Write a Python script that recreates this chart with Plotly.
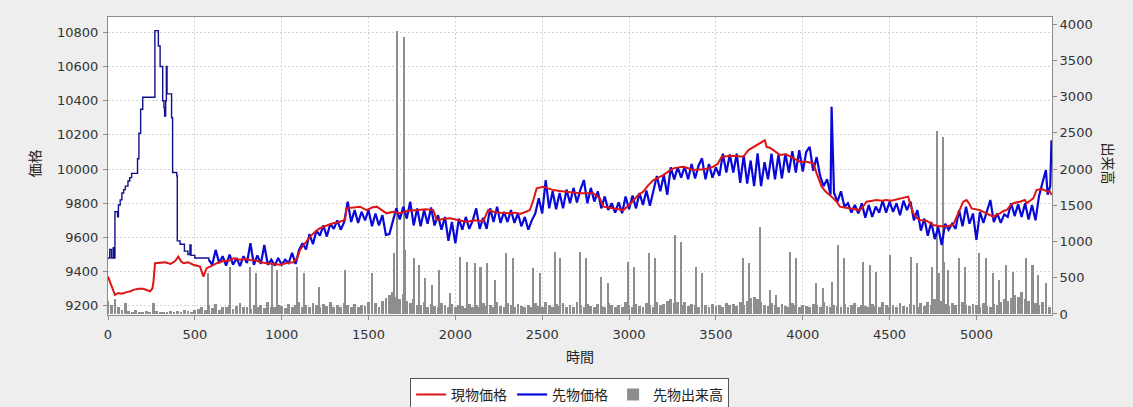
import plotly.graph_objects as go

# ---- spot price (現物価格): sample times and values ----
SPOT_T = [0, 21, 40, 60, 80, 107, 130, 146, 175, 203, 225, 242, 255, 261, 271, 300, 330, 360, 385, 405,
          420, 434, 460, 491, 510, 530, 549, 560, 568, 600, 626, 660, 700, 722, 760, 790, 817, 850, 880, 914,
          950, 990, 1030, 1067, 1090, 1105, 1130, 1163, 1190, 1220, 1260, 1297, 1330, 1364, 1374, 1410, 1451, 1489, 1520, 1547,
          1575, 1604, 1640, 1681, 1720, 1777, 1830, 1873, 1892, 1930, 1969, 2020, 2065, 2110, 2161, 2189, 2220, 2257, 2290, 2314,
          2350, 2372, 2410, 2429, 2449, 2468, 2506, 2535, 2564, 2600, 2640, 2680, 2717, 2760, 2794, 2832, 2852, 2880, 2909, 2940,
          2967, 3000, 3025, 3050, 3082, 3110, 3140, 3170, 3197, 3225, 3255, 3285, 3313, 3340, 3370, 3400, 3428, 3460, 3485, 3510,
          3533, 3565, 3600, 3630, 3658, 3687, 3710, 3735, 3760, 3782, 3792, 3810, 3831, 3850, 3869, 3890, 3907, 3925, 3945, 3965,
          3984, 4022, 4061, 4080, 4095, 4109, 4130, 4156, 4175, 4195, 4214, 4240, 4271, 4300, 4329, 4350, 4367, 4400, 4425, 4455,
          4482, 4510, 4540, 4559, 4590, 4607, 4617, 4636, 4655, 4675, 4713, 4751, 4790, 4828, 4866, 4886, 4905, 4924, 4943, 4960,
          4972, 5000, 5020, 5040, 5058, 5080, 5097, 5120, 5135, 5155, 5174, 5195, 5212, 5250, 5279, 5289, 5310, 5327, 5346, 5365,
          5385, 5405, 5423, 5433]
SPOT_V = [9370, 9313, 9264, 9275, 9270, 9280, 9285, 9293, 9300, 9300, 9290, 9285, 9300, 9332, 9449, 9450, 9455, 9445, 9460, 9488,
          9460, 9449, 9455, 9440, 9435, 9429, 9371, 9400, 9420, 9435, 9449, 9460, 9465, 9478, 9470, 9475, 9468, 9465, 9455, 9449,
          9445, 9440, 9450, 9455, 9480, 9527, 9560, 9605, 9630, 9654, 9670, 9683, 9690, 9702, 9770, 9775, 9780, 9760, 9775, 9780,
          9760, 9741, 9750, 9741, 9755, 9760, 9765, 9760, 9702, 9708, 9712, 9700, 9692, 9700, 9695, 9760, 9750, 9745, 9741, 9741,
          9745, 9738, 9752, 9760, 9819, 9887, 9897, 9885, 9877, 9872, 9868, 9860, 9858, 9858, 9858, 9829, 9780, 9775, 9770, 9765,
          9760, 9790, 9819, 9845, 9868, 9905, 9936, 9950, 9965, 9985, 10004, 10010, 10014, 10005, 9994, 9998, 9997, 10005, 10014, 10030,
          10072, 10075, 10078, 10075, 10072, 10111, 10125, 10140, 10155, 10169, 10130, 10125, 10111, 10095, 10082, 10085, 10085, 10075, 10063, 10050,
          10043, 10043, 10033, 9975, 9935, 9897, 9870, 9848, 9830, 9809, 9780, 9775, 9770, 9765, 9760, 9785, 9809, 9815, 9819, 9815,
          9819, 9815, 9822, 9829, 9835, 9839, 9800, 9741, 9715, 9702, 9698, 9673, 9665, 9665, 9673, 9721, 9770, 9809, 9819, 9795,
          9770, 9765, 9760, 9750, 9741, 9730, 9721, 9735, 9741, 9755, 9760, 9785, 9800, 9809, 9819, 9800, 9815, 9829, 9877, 9882,
          9880, 9870, 9868, 9848]

# ---- futures price (先物価格): opening stair-step run ----
FUT_OPEN_T = [0, 10, 20, 30, 35, 40, 55, 60, 70, 80, 90, 100, 115, 125, 136, 170, 178, 188, 200, 270,
              290, 300, 310, 315, 322, 326, 332, 336, 340, 362, 366, 372, 396, 399, 415, 440, 460, 472, 478, 500,
              540, 580]
FUT_OPEN_V = [9480, 9530, 9480, 9540, 9480, 9750, 9720, 9790, 9820, 9860, 9880, 9900, 9930, 9950, 9975, 10060, 10210, 10350, 10420, 10810,
              10720, 10600, 10600, 10400, 10360, 10310, 10400, 10600, 10440, 10440, 10300, 9980, 9960, 9580, 9560, 9520, 9500, 9556, 9495, 9480,
              9480, 9470]

# ---- futures price: rest of the session ----
FUT_T = [580, 600, 620, 640, 660, 680, 700, 720, 740, 760,
         780, 800, 820, 840, 860, 880, 900, 920, 940, 960,
         980, 1000, 1020, 1040, 1060, 1080, 1100, 1120, 1140, 1160,
         1180, 1200, 1220, 1240, 1260, 1280, 1300, 1320, 1340, 1360,
         1380, 1400, 1420, 1440, 1460, 1480, 1500, 1520, 1540, 1560,
         1580, 1600, 1620, 1640, 1660, 1680, 1700, 1720, 1740, 1760,
         1780, 1800, 1820, 1840, 1860, 1880, 1900, 1920, 1940, 1960,
         1980, 2000, 2020, 2040, 2060, 2080, 2100, 2120, 2140, 2160,
         2180, 2200, 2220, 2240, 2260, 2280, 2300, 2320, 2340, 2360,
         2380, 2400, 2420, 2440, 2460, 2480, 2500, 2520, 2540, 2560,
         2580, 2600, 2620, 2640, 2660, 2680, 2700, 2720, 2740, 2760,
         2780, 2800, 2820, 2840, 2860, 2880, 2900, 2920, 2940, 2960,
         2980, 3000, 3020, 3040, 3060, 3080, 3100, 3120, 3140, 3160,
         3180, 3200, 3220, 3240, 3260, 3280, 3300, 3320, 3340, 3360,
         3380, 3400, 3420, 3440, 3460, 3480, 3500, 3520, 3540, 3560,
         3580, 3600, 3620, 3640, 3660, 3680, 3700, 3720, 3740, 3760,
         3780, 3800, 3820, 3840, 3860, 3880, 3900, 3920, 3940, 3960,
         3980, 4000, 4020, 4040, 4060, 4080, 4100, 4120, 4140, 4160,
         4166, 4180, 4200, 4220, 4240, 4260, 4280, 4300, 4320, 4340,
         4360, 4380, 4400, 4420, 4440, 4460, 4480, 4500, 4520, 4540,
         4560, 4580, 4600, 4620, 4640, 4660, 4680, 4700, 4720, 4740,
         4760, 4780, 4800, 4820, 4840, 4860, 4880, 4900, 4920, 4940,
         4960, 4980, 5000, 5020, 5040, 5060, 5080, 5100, 5120, 5140,
         5160, 5180, 5200, 5220, 5240, 5260, 5280, 5300, 5320, 5340,
         5360, 5380, 5400, 5410, 5425, 5432]
FUT_V = [9470, 9440, 9527, 9450, 9490, 9435, 9500, 9440, 9480, 9432,
         9490, 9450, 9566, 9440, 9495, 9445, 9556, 9440, 9470, 9435,
         9480, 9440, 9470, 9450, 9510, 9445, 9527, 9566, 9530, 9620,
         9560, 9640, 9610, 9670, 9605, 9680, 9650, 9700, 9645, 9690,
         9809, 9690, 9760, 9685, 9750, 9700, 9760, 9665, 9740, 9670,
         9730, 9615, 9620, 9700, 9770, 9705, 9780, 9710, 9809, 9670,
         9770, 9665, 9760, 9680, 9775, 9670, 9730, 9645, 9720, 9580,
         9690, 9566, 9710, 9645, 9720, 9650, 9700, 9770, 9650, 9715,
         9650, 9770, 9690, 9780, 9685, 9750, 9690, 9760, 9685, 9740,
         9665, 9720, 9645, 9700, 9740, 9830, 9740, 9936, 9770, 9870,
         9765, 9860, 9770, 9880, 9800, 9890, 9805, 9880, 9936, 9800,
         9890, 9810, 9870, 9770, 9840, 9760, 9800, 9745, 9805, 9742,
         9840, 9765, 9845, 9770, 9860, 9790, 9875, 9785, 9880, 9960,
         9870, 9965, 9850, 10010, 9940, 10010, 9950, 10014, 9940, 10030,
         9945, 10020, 10063, 9940, 10030, 9950, 10010, 9960, 10090, 9980,
         10085, 9980, 10090, 9920, 10080, 9915, 10050, 9900, 10092, 9900,
         10040, 9940, 10090, 9940, 10085, 9945, 10090, 9980, 10105, 9980,
         10110, 9985, 10100, 10130, 9990, 10070, 9960, 9900, 9940, 9850,
         10364, 9860, 9810, 9870, 9780, 9800, 9745, 9790, 9740, 9800,
         9715, 9790, 9720, 9780, 9745, 9815, 9745, 9810, 9750, 9800,
         9730, 9815, 9760, 9810, 9700, 9760, 9640, 9710, 9610, 9690,
         9590, 9660, 9556, 9680, 9645, 9680, 9650, 9760, 9665, 9780,
         9680, 9740, 9585, 9750, 9685, 9755, 9819, 9690, 9740, 9685,
         9735, 9720, 9800, 9725, 9795, 9720, 9800, 9705, 9790, 9700,
         9840, 9920, 9994, 9850, 9900, 10169]

# ---- futures volume (先物出来高): steady activity every 20 ticks plus large prints ----
VOL_STEP = 20
VOL_BASE = [180, 120, 200, 90, 60, 150, 40, 30, 50, 25,
            20, 35, 30, 150, 40, 25, 30, 20, 45, 30,
            40, 25, 60, 35, 30, 50, 70, 90, 60, 120,
            80, 140, 60, 100, 90, 130, 70, 110, 150, 90,
            100, 70, 130, 90, 120, 80, 160, 100, 90, 130,
            110, 80, 140, 90, 120, 160, 100, 130, 90, 150,
            120, 90, 140, 110, 160, 100, 130, 90, 150, 120,
            100, 140, 90, 130, 110, 170, 120, 150, 100, 180,
            220, 260, 300, 240, 200, 280, 180, 150, 200, 130,
            120, 160, 100, 140, 110, 90, 150, 120, 100, 140,
            90, 130, 110, 80, 140, 100, 120, 90, 150, 110,
            130, 100, 160, 110, 90, 150, 120, 100, 140, 110,
            90, 130, 100, 150, 110, 90, 160, 120, 100, 140,
            110, 150, 90, 130, 100, 160, 120, 90, 140, 110,
            100, 140, 110, 90, 150, 120, 100, 130, 90, 160,
            120, 100, 140, 110, 90, 150, 130, 100, 170, 120,
            140, 180, 200, 150, 170, 130, 160, 110, 140, 120,
            100, 150, 120, 90, 140, 110, 130, 100, 150, 120,
            140, 110, 160, 130, 180, 220, 240, 200, 160, 130,
            110, 150, 120, 100, 140, 110, 90, 150, 120, 100,
            130, 110, 90, 140, 120, 100, 160, 110, 90, 130,
            110, 90, 140, 100, 120, 150, 90, 130, 110, 100,
            140, 110, 90, 160, 120, 100, 130, 90, 150, 110,
            100, 140, 120, 90, 150, 110, 170, 130, 200, 160,
            180, 140, 110, 150, 120, 100, 160, 130, 110, 140,
            120, 100, 150, 110, 90, 140, 120, 160, 200, 180,
            220, 260, 240, 300, 200, 180, 220, 150, 130, 160,
            120, 100]
VOL_BASE_T = [i * VOL_STEP for i in range(len(VOL_BASE))]

SPIKE_T = [578, 702, 817, 856, 944, 975, 1090, 1128, 1214, 1368, 1521, 1646, 1666, 1704, 1710, 1762, 1790, 1829, 1867, 1906,
           1973, 2030, 2069, 2117, 2146, 2184, 2232, 2295, 2334, 2449, 2487, 2574, 2606, 2717, 2755, 2842, 2880, 2995, 3028, 3114,
           3149, 3268, 3303, 3389, 3424, 3658, 3692, 3754, 3811, 3846, 3930, 3965, 4080, 4118, 4170, 4204, 4239, 4348, 4387, 4421,
           4506, 4627, 4660, 4747, 4776, 4787, 4809, 4814, 4838, 4900, 4935, 5017, 5056, 5098, 5133, 5171, 5210, 5289, 5324, 5357,
           5401]
SPIKE_V = [561, 653, 653, 561, 745, 607, 653, 561, 377, 607, 561, 837, 3908, 3825, 883, 768, 676, 492, 400, 607,
           285, 791, 722, 699, 653, 699, 469, 837, 768, 630, 561, 860, 768, 860, 768, 515, 423, 722, 653, 837,
           768, 1090, 997, 653, 561, 768, 699, 1205, 331, 262, 860, 768, 423, 354, 446, 952, 772, 722, 676, 584,
           814, 791, 699, 653, 2529, 561, 2446, 722, 607, 768, 653, 837, 768, 561, 469, 676, 584, 768, 676, 538,
           423]

PRICE_TICKS = [9200, 9400, 9600, 9800, 10000, 10200, 10400, 10600, 10800]
VOL_TICKS = [0, 500, 1000, 1500, 2000, 2500, 3000, 3500, 4000]
TIME_TICKS = [0, 500, 1000, 1500, 2000, 2500, 3000, 3500, 4000, 4500, 5000]

TICK_FONT = dict(family="DejaVu Sans", size=13, color="#333333")
CJK = "Noto Sans CJK JP"
AXIS_GRAY = "#8c8c8c"
GRID = dict(showgrid=True, gridcolor="#d4d4d4", griddash="2px,2px", gridwidth=1)
FUT_COLOR = "#0808d8"

fig = go.Figure()

vol_x = VOL_BASE_T + SPIKE_T
vol_y = VOL_BASE + SPIKE_V
vol_w = [16] * len(VOL_BASE_T) + [9] * len(SPIKE_T)
fig.add_trace(go.Bar(
    x=vol_x, y=vol_y, width=vol_w, name="先物出来高",
    marker=dict(color="#8e8e8e", line=dict(width=0)),
    yaxis="y", legendrank=3,
))
fig.add_trace(go.Scatter(
    x=FUT_OPEN_T, y=FUT_OPEN_V, name="先物価格", mode="lines",
    line=dict(color="#10108a", width=1.4, shape="hv"),
    yaxis="y2", legendgroup="fut", showlegend=False,
))
fig.add_trace(go.Scatter(
    x=FUT_T, y=FUT_V, name="先物価格", mode="lines",
    line=dict(color=FUT_COLOR, width=2.2),
    yaxis="y2", legendgroup="fut", legendrank=2,
))
fig.add_trace(go.Scatter(
    x=SPOT_T, y=SPOT_V, name="現物価格", mode="lines",
    line=dict(color="#dd1515", width=2),
    yaxis="y2", legendrank=1,
))

fig.update_layout(
    width=1133, height=407,
    margin=dict(l=108, r=81, t=17, b=92, autoexpand=False),
    paper_bgcolor="#eeeeee",
    plot_bgcolor="#ffffff",
    barmode="overlay",
    bargap=0,
    xaxis=dict(
        range=[0, 5435], tickvals=TIME_TICKS, tickfont=TICK_FONT, **GRID,
        showline=True, linecolor=AXIS_GRAY, linewidth=1, mirror=True,
        ticks="outside", ticklen=4, tickcolor=AXIS_GRAY, ticklabelstandoff=3,
        zeroline=False,
    ),
    yaxis=dict(
        side="right", range=[-14, 4097], tickvals=VOL_TICKS, tickformat="d",
        tickfont=TICK_FONT, showgrid=False, zeroline=False,
        showline=True, linecolor=AXIS_GRAY, linewidth=1,
        ticks="outside", ticklen=4, tickcolor=AXIS_GRAY,
    ),
    yaxis2=dict(
        overlaying="y", side="left", range=[9146, 10890], tickvals=PRICE_TICKS,
        tickformat="d", tickfont=TICK_FONT, **GRID,
        zeroline=False, showline=True, linecolor=AXIS_GRAY, linewidth=1,
        ticks="outside", ticklen=4, tickcolor=AXIS_GRAY, ticklabelstandoff=2,
    ),
    legend=dict(
        orientation="h", x=0.489, xanchor="center", y=-0.211, yanchor="top",
        bgcolor="#ffffff", bordercolor="#555555", borderwidth=1,
        font=dict(family=CJK, size=14, color="#222222"),
        itemwidth=30, traceorder="normal",
    ),
    annotations=[
        dict(text="時間", xref="paper", yref="paper", x=0.5, y=-0.137,
             xanchor="center", yanchor="middle", showarrow=False,
             font=dict(family=CJK, size=14, color="#222222")),
        dict(text="価格", xref="paper", yref="paper", x=-0.078, y=0.51,
             xanchor="center", yanchor="middle", showarrow=False, textangle=-90,
             font=dict(family=CJK, size=14, color="#222222")),
        dict(text="出来高", xref="paper", yref="paper", x=1.06, y=0.51,
             xanchor="center", yanchor="middle", showarrow=False, textangle=90,
             font=dict(family=CJK, size=14, color="#222222")),
    ],
)

fig.write_html("out.html")
